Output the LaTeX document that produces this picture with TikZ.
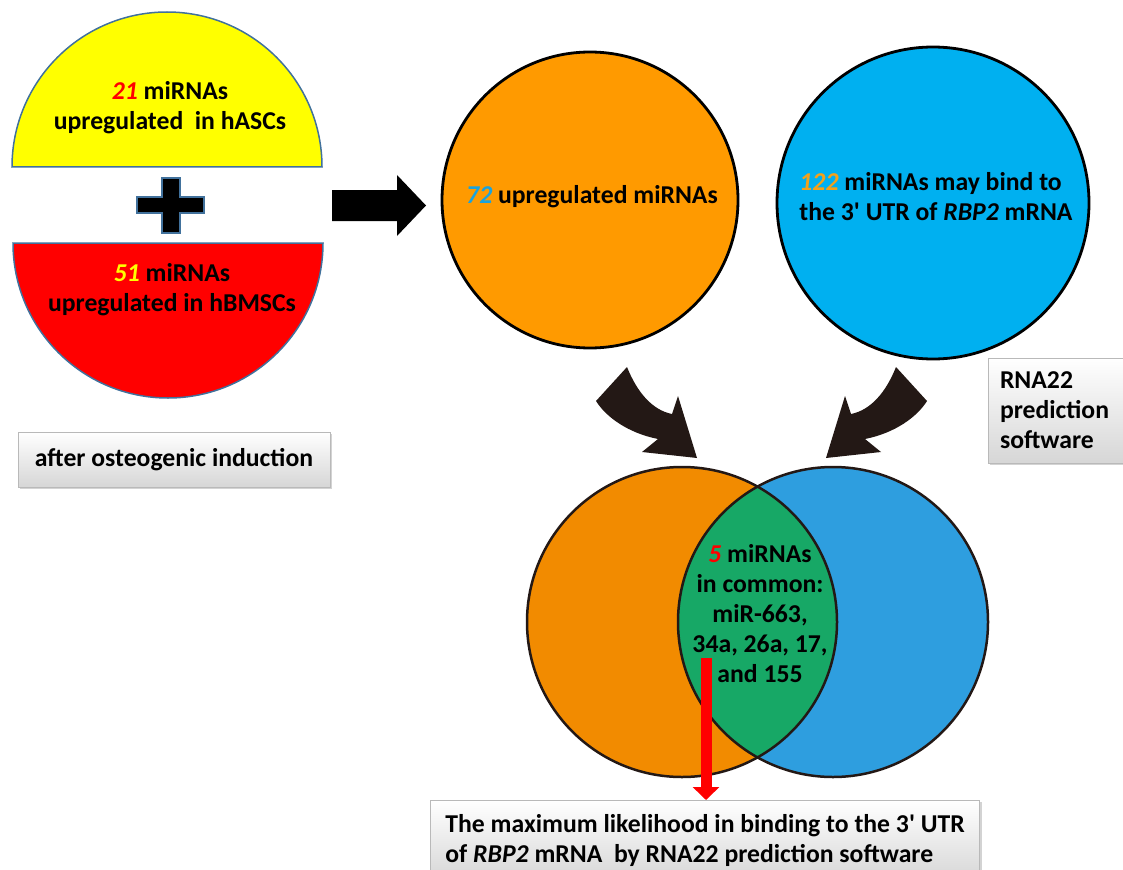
\documentclass[tikz,border=0pt]{standalone}
\usepackage{fontspec}
\setmainfont{Carlito}
\usetikzlibrary{arrows.meta,shadows}
\definecolor{hyellow}{HTML}{FFFF00}
\definecolor{hred}{HTML}{FF0000}
\definecolor{hedge}{HTML}{41719C}
\definecolor{torange}{HTML}{FF9A00}
\definecolor{tblue}{HTML}{00B0F0}
\definecolor{vorange}{HTML}{F28B00}
\definecolor{vblue}{HTML}{2E9EDF}
\definecolor{vgreen}{HTML}{17A866}
\definecolor{darrow}{HTML}{231815}
\definecolor{numblue}{HTML}{1AA3DF}
\definecolor{numorange}{HTML}{F5A118}
\newcommand{\apos}{\textquotesingle}
\begin{document}
\begin{tikzpicture}[x=1pt,y=-1pt,
  every node/.style={font=\bfseries\fontsize{25.7}{30}\selectfont, inner sep=0pt},
  halfdisc/.style={draw=hedge, line width=1.5pt},
  bigcircle/.style={circle, draw=black, line width=2.8pt},
  venn/.style={circle, minimum size=310pt},
  graybox/.style={rectangle, draw=gray!55, line width=0.8pt, top color=white, bottom color=gray!32,
     drop shadow={opacity=0.35, shadow xshift=2pt, shadow yshift=-2pt}},
  blockarrow/.style={fill=darrow},
]
\useasboundingbox (0,0) rectangle (1123,869);
\clip (0,0) rectangle (1123,869);

% half discs
\draw[halfdisc, fill=hyellow] (12,167) arc[start angle=180, end angle=360, radius=155] -- cycle;
\draw[halfdisc, fill=hred] (13,243) arc[start angle=180, end angle=0, radius=155] -- cycle;
\node[align=center] (tA) at (170,108) {\textcolor{hred}{\textit{21}} miRNAs\\upregulated\ \ in hASCs};
\node[align=center] (tB) at (172,290) {\textcolor{hyellow}{\textit{51}} miRNAs\\upregulated in hBMSCs};

% plus
\draw[fill=black, draw=hedge, line width=1.2pt]
  (162,178) -- (180,178) -- (180,197) -- (204,197) -- (204,213) -- (180,213) -- (180,233)
  -- (162,233) -- (162,213) -- (137,213) -- (137,197) -- (162,197) -- cycle;

% after osteogenic induction
\node[graybox, minimum width=312pt, minimum height=55pt] (osteo) at (174,459.5) {after osteogenic induction};

% big black arrow
\fill (332,190) -- (397,190) -- (397,175) -- (426,205.5) -- (397,236) -- (397,221) -- (332,221) -- cycle;

% top circles
\node[bigcircle, fill=torange, minimum size=296pt] (oc) at (590,200) {};
\node[bigcircle, fill=tblue, minimum size=312pt] (bc) at (933,203) {};
\node (ot) at (592,197) {\textcolor{numblue}{\textit{72}} upregulated miRNAs};
\node[align=left] (bt) at (936,197) {\textcolor{numorange}{\textit{122}} miRNAs may bind to\\the 3\apos{} UTR of \textit{RBP2} mRNA};

% curved block arrows
\fill[blockarrow] (627,367) .. controls (637,392) and (652,410) .. (672,414) -- (678,396) -- (697,458)
  -- (642,452) -- (658,439) .. controls (628,433) and (606,417) .. (596,401) -- cycle;
\fill[blockarrow] (896,367) .. controls (886,392) and (871,410) .. (851,414) -- (845,396) -- (826,458)
  -- (881,452) -- (865,439) .. controls (895,433) and (917,417) .. (927,401) -- cycle;

% RNA22 box
\node[graybox, minimum width=145pt, minimum height=105pt, text width=121pt, align=left, inner xsep=12pt] (rna) at (1060.5,410.5)
  {RNA22\\prediction\\software};

% Venn
\node[venn, fill=vorange] (vl) at (682,622) {};
\node[venn, fill=vblue] (vr) at (833,622) {};
\begin{scope}
  \clip (vl.center) circle[radius=155];
  \fill[vgreen] (vr.center) circle[radius=155];
\end{scope}
\draw[darrow, line width=2.5pt] (vl.center) circle[radius=155];
\draw[darrow, line width=2.5pt] (vr.center) circle[radius=155];
\node[align=center] (lens) at (760,614) {\textcolor{hred}{\textit{5}} miRNAs\\in common:\\miR-663,\\34a, 26a, 17,\\and 155};

% bottom box
\node[graybox, minimum width=548pt, minimum height=80pt, align=left, inner xsep=15pt, anchor=north west] (res) at (430,800)
  {The maximum likelihood in binding to the 3\apos{} UTR\\of \textit{RBP2} mRNA\ \ by RNA22 prediction software};

% red arrow
\coordinate (rs) at (706,658);
\draw[hred, line width=11pt, -{Triangle[width=26pt,length=13pt]}] (rs) -- (rs |- res.north);
\end{tikzpicture}
\end{document}
